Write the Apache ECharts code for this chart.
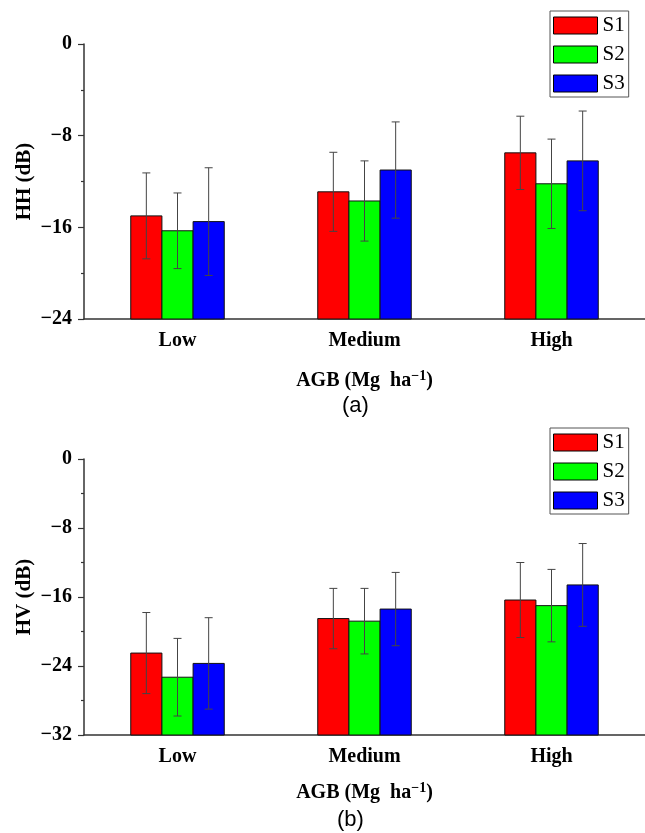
<!DOCTYPE html>
<html>
<head>
    <meta charset="utf-8">
    <title>HH / HV backscatter by AGB</title>
    <script src="https://cdn.jsdelivr.net/npm/echarts@6/dist/echarts.min.js"></script>
    <style>
        html, body { margin: 0; padding: 0; background: #fff; }
    </style>
</head>
<body>
    <div id="main" style="width: 645px;height:833px;"></div>
    <script type="text/javascript">
        // data (dB)
        var categories = ['Low', 'Medium', 'High'];
        var seriesNames = ['S1', 'S2', 'S3'];
        var colors = ['#ff0000', '#00ff00', '#0000ff'];

        var hhS1 = [-15.0, -12.9, -9.5];
        var hhS2 = [-16.3, -13.7, -12.2];
        var hhS3 = [-15.5, -11.0, -10.2];
        var hhErrS1 = [3.75, 3.45, 3.2];
        var hhErrS2 = [3.3, 3.5, 3.9];
        var hhErrS3 = [4.7, 4.2, 4.35];

        var hvS1 = [-22.5, -18.5, -16.35];
        var hvS2 = [-25.3, -18.8, -17.0];
        var hvS3 = [-23.7, -17.4, -14.6];
        var hvErrS1 = [4.7, 3.5, 4.35];
        var hvErrS2 = [4.5, 3.8, 4.2];
        var hvErrS3 = [5.3, 4.25, 4.8];

        var hhTicks = [-24, -16, -8, 0];
        var hvTicks = [-32, -24, -16, -8, 0];

        var serif = 'Liberation Serif';
        var myChart = echarts.init(document.getElementById('main'));

        function fmt(v) {
            return v < 0 ? '\u2212' + Math.abs(v) : String(v);
        }

        // bar from the axis bottom up to the mean, plus the error whiskers
        function makeRender(k, base) {
            return function (params, api) {
                var i = api.value(0), v = api.value(1), e = api.value(2);
                var band = api.size([1, 0])[0];
                var w = band * 0.5 / 3;
                var p = api.coord([i, v]);
                var cx = p[0] + (k - 1) * w;
                var bottom = api.coord([i, base])[1];
                var hi = api.coord([i, v + e])[1];
                var lo = api.coord([i, v - e])[1];
                var es = { stroke: '#444', lineWidth: 1 };
                return {
                    type: 'group',
                    children: [
                        { type: 'rect', shape: { x: cx - w / 2, y: p[1], width: w, height: bottom - p[1] },
                          style: { fill: colors[k], stroke: '#111', lineWidth: 1 } },
                        { type: 'line', shape: { x1: cx, y1: hi, x2: cx, y2: lo }, style: es },
                        { type: 'line', shape: { x1: cx - 4, y1: hi, x2: cx + 4, y2: hi }, style: es },
                        { type: 'line', shape: { x1: cx - 4, y1: lo, x2: cx + 4, y2: lo }, style: es }
                    ]
                };
            };
        }

        function rows(vals, errs) {
            return vals.map(function (v, i) { return [i, v, errs[i]]; });
        }

        function panelSeries(idx, base, vals, errs) {
            return vals.map(function (arr, k) {
                return {
                    type: 'custom',
                    name: seriesNames[k],
                    xAxisIndex: idx,
                    yAxisIndex: idx,
                    itemStyle: { color: colors[k], borderColor: '#000', borderWidth: 1 },
                    renderItem: makeRender(k, base),
                    encode: { x: 0, y: 1 },
                    data: rows(arr, errs[k])
                };
            });
        }

        function mainX(idx, gap) {
            return {
                type: 'category', gridIndex: idx, data: categories,
                boundaryGap: true,
                axisLine: { onZero: false, lineStyle: { color: '#333', width: 1.5 } },
                axisTick: { alignWithLabel: true, length: 7, lineStyle: { color: '#333', width: 1.2 } },
                axisLabel: { margin: 12, fontFamily: serif, fontWeight: 'bold', fontSize: 20, color: '#000' },
                name: 'AGB (Mg  ha{sup|\u22121})',
                nameLocation: 'middle', nameGap: gap,
                nameTextStyle: {
                    fontFamily: serif, fontWeight: 'bold', fontSize: 20, color: '#000',
                    rich: { sup: { fontFamily: serif, fontWeight: 'bold', fontSize: 14, color: '#000', padding: [0, 0, 9, 0] } }
                }
            };
        }

        // second category axis only for the short ticks between groups
        function boundX(idx) {
            return {
                type: 'category', gridIndex: idx, data: categories,
                axisLine: { show: false, onZero: false },
                axisTick: { length: 4, lineStyle: { color: '#333', width: 1.2 } },
                axisLabel: { show: false }
            };
        }

        function mainY(idx, min, name) {
            return {
                type: 'value', gridIndex: idx, min: min, max: 0, interval: 8,
                splitLine: { show: false },
                axisLine: { show: true, lineStyle: { color: '#333', width: 1.5 } },
                axisTick: { show: true, length: 6, lineStyle: { color: '#333', width: 1.2 } },
                minorTick: { show: true, splitNumber: 2, length: 3, lineStyle: { color: '#333', width: 1.2 } },
                axisLabel: { margin: 12, formatter: fmt, fontFamily: serif, fontWeight: 'bold', fontSize: 20, color: '#000' },
                name: name, nameLocation: 'middle', nameGap: 49, nameRotate: 90,
                nameMoveOverlap: false,
                nameTextStyle: { fontFamily: serif, fontWeight: 'bold', fontSize: 21, color: '#000' }
            };
        }

        function legendAt(top) {
            return {
                data: seriesNames, orient: 'vertical', left: 550, top: top,
                icon: 'rect', itemWidth: 44, itemHeight: 17, itemGap: 8,
                padding: [4, 4, 3, 3],
                borderColor: '#555', borderWidth: 1,
                itemStyle: { borderColor: '#000', borderWidth: 1 },
                textStyle: { fontFamily: serif, fontSize: 21, lineHeight: 17, color: '#000' }
            };
        }

        option = {
            animation: false,
            backgroundColor: '#fff',
            grid: [
                { left: 84, top: 44, width: 570, height: 275 },
                { left: 84, top: 459, width: 570, height: 276 }
            ],
            legend: [legendAt(11), legendAt(428)],
            xAxis: [mainX(0, 50), mainX(1, 46), boundX(0), boundX(1)],
            yAxis: [mainY(0, hhTicks[0], 'HH (dB)'), mainY(1, hvTicks[0], 'HV (dB)')],
            graphic: [
                { type: 'text', left: 342, top: 395, style: { text: '(a)', font: '22px "Liberation Sans"', fill: '#000' } },
                { type: 'text', left: 337, top: 809, style: { text: '(b)', font: '22px "Liberation Sans"', fill: '#000' } }
            ],
            series: panelSeries(0, hhTicks[0], [hhS1, hhS2, hhS3], [hhErrS1, hhErrS2, hhErrS3])
                .concat(panelSeries(1, hvTicks[0], [hvS1, hvS2, hvS3], [hvErrS1, hvErrS2, hvErrS3]))
        };
        myChart.setOption(option);
    </script>
</body>
</html>
